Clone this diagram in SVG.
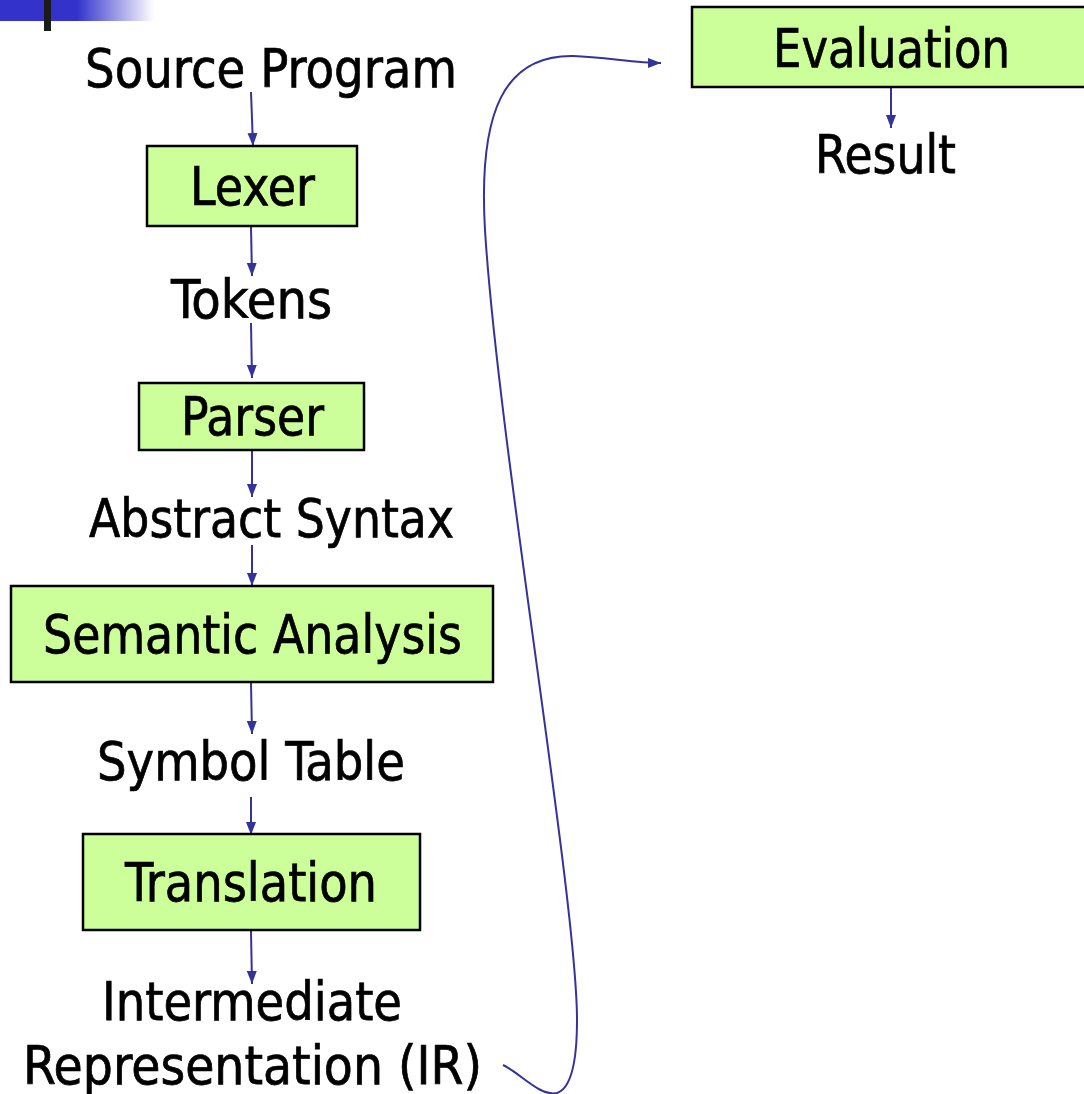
<svg xmlns="http://www.w3.org/2000/svg" width="1084" height="1094" viewBox="0 0 1084 1094">
  <defs>
    <linearGradient id="barFade" x1="0" y1="0" x2="1" y2="0">
      <stop offset="0" stop-color="#3333CC"/>
      <stop offset="0.5" stop-color="#3333CC"/>
      <stop offset="1" stop-color="#FFFFFF"/>
    </linearGradient>
    <marker id="arrow" markerUnits="userSpaceOnUse" markerWidth="14" markerHeight="12" refX="13" refY="5" orient="auto">
      <path d="M0,0 L13,5 L0,10 z" fill="#333399"/>
    </marker>
    <style>
      .box { fill: #CCFF99; stroke: #000000; stroke-width: 2.5; }
      .lbl { font-family: "DejaVu Sans Condensed", "DejaVu Sans", sans-serif; font-size: 54px; fill: #000000; stroke: #000000; stroke-width: 0.7; }
      .edge { fill: none; stroke: #333399; stroke-width: 2; marker-end: url(#arrow); }
    </style>
  </defs>

  <rect width="1084" height="1094" fill="#FFFFFF"/>

  <!-- header decoration -->
  <rect x="0" y="0" width="154" height="21" fill="url(#barFade)"/>
  <rect x="44" y="0" width="7" height="31" fill="#1A1A1A"/>

  <!-- connectors -->
  <g id="connectors">
    <path class="edge" d="M251,92 L253,146"/>
    <path class="edge" d="M251,227 L252,276"/>
    <path class="edge" d="M251,323 L252,378"/>
    <path class="edge" d="M252,451 L252,497"/>
    <path class="edge" d="M252,545 L252,586"/>
    <path class="edge" d="M251,683 L252,734"/>
    <path class="edge" d="M251,797 L251,835"/>
    <path class="edge" d="M251,931 L252,984"/>
    <path class="edge" d="M891,88 L891,128"/>
    <path class="edge" d="M503,1065 C520,1073 540,1097 557,1093 C572,1088 577,1060 577,1020 C577,900 498,440 485,230 C478,110 505,55 573,56 C605,57 635,63 661,63"/>
  </g>

  <g id="source-program">
    <text class="lbl" x="85" y="87" textLength="372" lengthAdjust="spacingAndGlyphs">Source Program</text>
  </g>
  <g id="lexer">
    <rect class="box" x="147" y="146" width="210" height="80"/>
    <text class="lbl" x="190" y="205" textLength="125" lengthAdjust="spacingAndGlyphs">Lexer</text>
  </g>
  <g id="tokens">
    <text class="lbl" x="171" y="318" textLength="161" lengthAdjust="spacingAndGlyphs">Tokens</text>
  </g>
  <g id="parser">
    <rect class="box" x="139" y="383" width="225" height="67"/>
    <text class="lbl" x="181" y="435" textLength="143" lengthAdjust="spacingAndGlyphs">Parser</text>
  </g>
  <g id="abstract-syntax">
    <text class="lbl" x="89" y="537" textLength="365" lengthAdjust="spacingAndGlyphs">Abstract Syntax</text>
  </g>
  <g id="semantic-analysis">
    <rect class="box" x="11" y="586" width="482" height="96"/>
    <text class="lbl" x="43" y="653" textLength="419" lengthAdjust="spacingAndGlyphs">Semantic Analysis</text>
  </g>
  <g id="symbol-table">
    <text class="lbl" x="97" y="780" textLength="308" lengthAdjust="spacingAndGlyphs">Symbol Table</text>
  </g>
  <g id="translation">
    <rect class="box" x="83" y="834" width="337" height="96"/>
    <text class="lbl" x="125" y="901" textLength="252" lengthAdjust="spacingAndGlyphs">Translation</text>
  </g>
  <g id="ir">
    <text class="lbl" x="102" y="1020" textLength="300" lengthAdjust="spacingAndGlyphs">Intermediate</text>
    <text class="lbl" x="23" y="1084" textLength="459" lengthAdjust="spacingAndGlyphs">Representation (IR)</text>
  </g>
  <g id="evaluation">
    <rect class="box" x="692" y="7" width="400" height="80"/>
    <text class="lbl" x="773" y="67" textLength="237" lengthAdjust="spacingAndGlyphs">Evaluation</text>
  </g>
  <g id="result">
    <text class="lbl" x="815" y="173" textLength="141" lengthAdjust="spacingAndGlyphs">Result</text>
  </g>
</svg>
